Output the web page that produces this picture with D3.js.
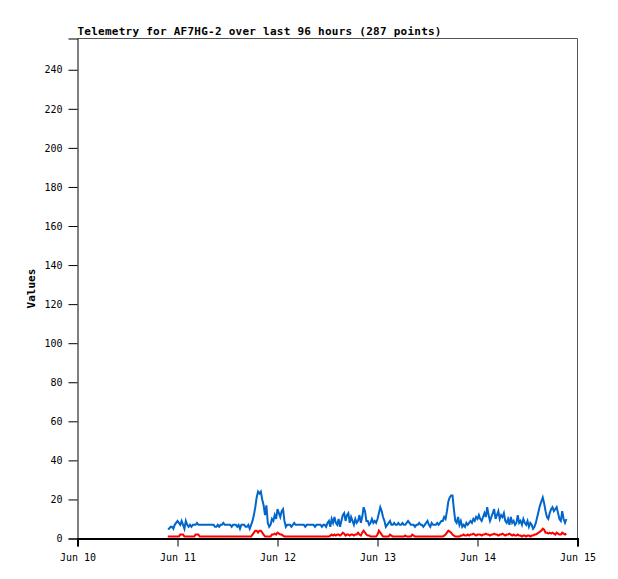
<!DOCTYPE html>
<html>
<head>
<meta charset="utf-8">
<script src="https://cdn.jsdelivr.net/npm/d3@7"></script>
<style>
  body { margin: 0; background: #fff; }
  svg text { font-family: "DejaVu Sans Mono", "Liberation Mono", monospace; }
</style>
</head>
<body>
<div id="chart"></div>
<script>
const title = 'Telemetry for AF7HG-2 over last 96 hours (287 points)';
const yLabel = 'Values';
const xDomain = ['2024-06-10T00:00:00Z', '2024-06-15T00:00:00Z'];
const seriesStart = '2024-06-10T21:40:00Z';
const stepMinutes = 20;
const yTicks = [0, 20, 40, 60, 80, 100, 120, 140, 160, 180, 200, 220, 240];

// blue series, one value every 20 minutes
const blueValues = [
    5,5,6,6,5,7,8,9,8,7,9,7,5,9,7,6,7,6,7,7,7,8,7,7,
    7,7,7,7,7,7,7,7,7,7,6,6,7,6,7,7,8,7,7,7,7,7,6,7,
    7,7,6,7,5,7,7,7,6,6,7,5,7,9,12,16,21,24,23,24,20,17,12,17,
    8,6,7,10,9,12,10,15,13,11,14,15,9,6,7,7,7,6,7,8,7,7,7,7,
    7,7,7,6,7,7,7,7,7,7,6,7,7,7,7,6,7,7,6,8,9,6,10,8,
    11,8,7,10,6,9,12,13,9,12,13,8,11,9,7,10,8,9,12,8,11,16,14,9,
    9,7,8,10,8,9,8,10,13,16,14,11,9,6,7,8,9,7,7,8,7,7,8,7,
    7,8,7,7,8,9,8,7,7,7,6,7,7,8,7,7,6,7,8,9,7,6,8,7,
    7,7,8,7,8,9,9,11,10,14,19,21,22,22,15,9,8,11,7,9,6,7,6,8,
    7,8,9,8,10,9,11,10,12,10,9,11,13,11,16,12,9,11,13,15,10,12,14,10,
    12,11,13,9,8,10,7,11,8,9,7,8,12,8,9,7,10,8,7,9,6,8,7,5,
    6,8,11,14,17,19,21,18,14,11,10,13,15,16,14,15,16,13,10,9,14,10,8,10
];

// red series, same timestamps
const redValues = [
    1,1,1,1,1,1,1,1,1,2,2,2,1,1,1,1,1,1,1,1,2,2,2,1,
    1,1,1,1,1,1,1,1,1,1,1,1,1,1,1,1,1,1,1,1,1,1,1,1,
    1,1,1,1,1,1,1,1,1,1,1,1,1,2,3,4,4,3,4,4,3,2,1,1,
    1,1,1,2,2,2.5,2,3,2.5,2,2,1.5,1,1,1,1,1,1,1,1,1,1,1,1,
    1,1,1,1,1,1,1,1,1,1,1,1,1,1,1,1,1,1,1,1,1,1.5,2,1.5,
    2,1.5,2,2,1.5,2,3,2.5,1.5,2,2,1.5,2,2,1.5,2,2,3,2,1.5,3,4,3,2,
    1.5,1.5,1,1,1,1,1,2,4,3,2,1,1,1,1,1,2,1.5,1,1,1,1,1,1,
    1,1,1,1.5,1,1,1,1,2,1.5,1,1,1,1,1,1,1,1,1,1,1,1,1,1,
    1,1,1,1,1,1,1,1.5,2,3,4,3.5,3,2,1.5,1,1,1,1,1.5,1.5,2,1.5,1.5,
    2,1.5,2,2,2.5,2,1.5,2,2,2,1.5,2,2,2.5,2,2,1.5,2,2,2.5,2,2,1.5,2,
    2,2.5,2,1.5,2,2,2.5,2,1.5,2,1.5,1.5,2,1.5,1.5,1,1.5,1.5,1,1.5,1.5,1,1.5,1.5,
    2,2,2.5,3,3.5,4,5,4.5,3,3,2.5,3,2.5,3,2.5,2,3,2.5,2,2,3,2.5,2,2.5
];

const series = [
    { name: 'blue', color: '#0066cc', values: blueValues },
    { name: 'red', color: '#ff0000', values: redValues }
];

const W = 618, H = 579;
const margin = { top: 38.5, right: 40.5, bottom: 40.5, left: 77.5 };
const width = W - margin.left - margin.right;
const height = H - margin.top - margin.bottom;

const svg = d3.select('#chart').append('svg')
    .attr('width', W)
    .attr('height', H);

const g = svg.append('g')
    .attr('transform', `translate(${margin.left},${margin.top})`);

const x = d3.scaleUtc()
    .domain(xDomain.map(d => new Date(d)))
    .range([0, width]);

const y = d3.scaleLinear()
    .domain([0, 256])
    .range([height, 0]);

const t0 = new Date(seriesStart).getTime();
const timeAt = i => new Date(t0 + i * stepMinutes * 60000);

// frame (top + right)
g.append('path')
    .attr('d', `M0,0H${width}V${height}`)
    .attr('fill', 'none')
    .attr('stroke', '#555')
    .attr('stroke-width', 1);

const line = d3.line()
    .x((d, i) => x(timeAt(i)))
    .y(d => y(d));

series.forEach(s => {
    g.append('path')
        .datum(s.values)
        .attr('fill', 'none')
        .attr('stroke', s.color)
        .attr('stroke-width', 2)
        .attr('stroke-linejoin', 'miter')
        .attr('d', line);
});

const yAxis = g.append('g')
    .call(d3.axisLeft(y).tickValues(yTicks).tickSize(9).tickPadding(6));

const xAxis = g.append('g')
    .attr('transform', `translate(0,${height})`)
    .call(d3.axisBottom(x)
        .ticks(d3.utcDay.every(1))
        .tickFormat(d3.utcFormat('%b %d'))
        .tickSize(8)
        .tickPadding(7));

[yAxis, xAxis].forEach(a => {
    a.selectAll('text')
        .attr('fill', '#000')
        .style('font-size', '10px');
    a.selectAll('line').attr('stroke', '#000');
    a.select('.domain').attr('stroke', '#000');
});
xAxis.select('.domain').attr('stroke-width', 2);

svg.append('text')
    .attr('x', margin.left)
    .attr('y', 34.5)
    .attr('font-size', 11)
    .attr('font-weight', 'bold')
    .attr('letter-spacing', 0.25)
    .text(title);

svg.append('text')
    .attr('transform', `translate(35,${margin.top + height / 2}) rotate(-90)`)
    .attr('text-anchor', 'middle')
    .attr('font-size', 11)
    .attr('font-weight', 'bold')
    .text(yLabel);
</script>
</body>
</html>
